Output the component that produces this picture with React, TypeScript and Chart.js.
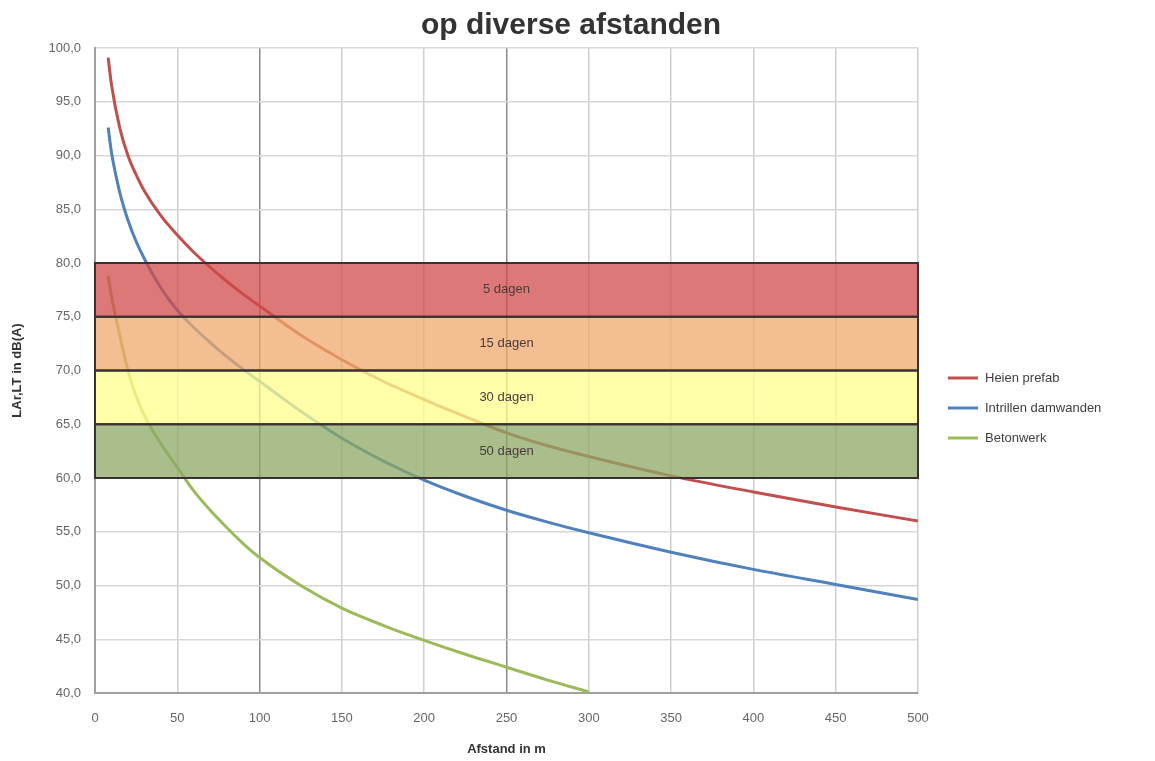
import React, { useEffect, useRef } from "react";
import { Chart, registerables } from "chart.js";

Chart.register(...registerables);

const distances = [8, 10, 15, 20, 25, 30, 40, 50, 60, 70, 80, 90, 100, 125, 150, 175, 200, 225, 250, 275, 300, 350, 400, 450, 500];
const heienPrefab = [99.1, 96.6, 92.6, 90.0, 88.2, 86.7, 84.4, 82.6, 81.0, 79.6, 78.3, 77.1, 76.0, 73.3, 71.0, 69.0, 67.3, 65.7, 64.2, 63.0, 62.0, 60.2, 58.7, 57.3, 56.0];
const intrillenDamwanden = [92.6, 90.3, 86.6, 84.0, 82.0, 80.4, 77.7, 75.6, 74.0, 72.6, 71.3, 70.1, 69.0, 66.2, 63.7, 61.6, 59.8, 58.3, 57.0, 55.9, 54.9, 53.1, 51.5, 50.1, 48.7];
const betonwerk = [78.8, 76.9, 73.3, 70.0, 67.6, 65.8, 63.2, 61.0, 58.8, 57.0, 55.4, 53.9, 52.6, 50.0, 47.9, 46.3, 44.9, 43.6, 42.4, 41.2, 40.1, null, null, null, null];

const seriesNames = ["Heien prefab", "Intrillen damwanden", "Betonwerk"];
const seriesColors = ["#C0504D", "#4F81BD", "#9BBB59"];

const bandLow = [75, 70, 65, 60];
const bandHigh = [80, 75, 70, 65];
const bandLabels = ["5 dagen", "15 dagen", "30 dagen", "50 dagen"];
const bandColors = ["rgba(209,75,75,0.75)", "rgba(239,168,108,0.75)", "rgba(255,255,141,0.75)", "rgba(141,168,101,0.75)"];
const bandFrom = 0;
const bandTo = 500;
const bandLabelX = 250;

const titleText = "op diverse afstanden";
const xTitle = "Afstand in m";
const yTitle = "LAr,LT in dB(A)";

const FONT = "'Liberation Sans', Arial, sans-serif";

export default function App() {
  const ref = useRef<HTMLCanvasElement | null>(null);

  useEffect(() => {
    document.body.style.margin = "0";
    const canvas = ref.current;
    if (!canvas) return;

    const toPoints = (vals: (number | null)[]) =>
      distances.map((d, i) => ({ x: d, y: vals[i] }));

    const overlay = {
      id: "overlay",
      afterDatasetsDraw(chart: any) {
        const { ctx, scales } = chart;
        const xs = scales.x;
        const ys = scales.y;
        const x0 = xs.getPixelForValue(bandFrom);
        const x1 = xs.getPixelForValue(bandTo);
        ctx.save();
        for (let i = 0; i < bandLow.length; i++) {
          const yTop = ys.getPixelForValue(bandHigh[i]);
          const yBot = ys.getPixelForValue(bandLow[i]);
          ctx.fillStyle = bandColors[i];
          ctx.fillRect(x0, yTop, x1 - x0, yBot - yTop);
        }
        ctx.strokeStyle = "#3b3030";
        ctx.lineWidth = 2;
        for (let i = 0; i < bandLow.length; i++) {
          const yTop = ys.getPixelForValue(bandHigh[i]);
          const yBot = ys.getPixelForValue(bandLow[i]);
          ctx.strokeRect(x0, yTop, x1 - x0, yBot - yTop);
        }
        ctx.fillStyle = "#4a3a3a";
        ctx.font = `13px ${FONT}`;
        ctx.textAlign = "center";
        ctx.textBaseline = "middle";
        for (let i = 0; i < bandLow.length; i++) {
          const yMid = ys.getPixelForValue((bandHigh[i] + bandLow[i]) / 2);
          ctx.fillText(bandLabels[i], xs.getPixelForValue(bandLabelX), yMid);
        }
        ctx.restore();
      },
      afterDraw(chart: any) {
        const { ctx, chartArea } = chart;
        ctx.save();
        ctx.fillStyle = "#333333";
        ctx.font = `bold 30px ${FONT}`;
        ctx.textAlign = "center";
        ctx.textBaseline = "alphabetic";
        ctx.fillText(titleText, 571, 34);
        // legend
        ctx.font = `13px ${FONT}`;
        ctx.textAlign = "left";
        ctx.textBaseline = "middle";
        const lx = chartArea.right + 30;
        const ly = 378;
        for (let i = 0; i < seriesNames.length; i++) {
          const y = ly + i * 30;
          ctx.strokeStyle = seriesColors[i];
          ctx.lineWidth = 3;
          ctx.beginPath();
          ctx.moveTo(lx, y);
          ctx.lineTo(lx + 30, y);
          ctx.stroke();
          ctx.fillStyle = "#404040";
          ctx.fillText(seriesNames[i], lx + 37, y);
        }
        ctx.restore();
      },
    };

    const chart = new Chart(canvas, {
      type: "line",
      data: {
        datasets: [
          { label: seriesNames[0], data: toPoints(heienPrefab) as any, borderColor: seriesColors[0], borderWidth: 3, pointRadius: 0, cubicInterpolationMode: "monotone", fill: false },
          { label: seriesNames[1], data: toPoints(intrillenDamwanden) as any, borderColor: seriesColors[1], borderWidth: 3, pointRadius: 0, cubicInterpolationMode: "monotone", fill: false },
          { label: seriesNames[2], data: toPoints(betonwerk) as any, borderColor: seriesColors[2], borderWidth: 3, pointRadius: 0, cubicInterpolationMode: "monotone", fill: false, spanGaps: false },
        ],
      },
      options: {
        animation: false,
        responsive: true,
        maintainAspectRatio: false,
        layout: { padding: { top: 48, right: 237, left: 0, bottom: 0 } },
        plugins: {
          legend: { display: false },
          title: { display: false },
          tooltip: { enabled: false },
        },
        scales: {
          x: {
            type: "linear",
            min: 0,
            max: 500,
            ticks: { stepSize: 50, color: "#666", font: { family: FONT, size: 13 }, padding: 18 },
            grid: {
              color: (c: any) => (c.tick && (c.tick.value === 100 || c.tick.value === 250) ? "#8a8a8a" : "#cfcfcf"),
              lineWidth: 1.5,
              drawTicks: false,
            },
            border: { color: "#a0a0a0", width: 2 },
            title: { display: true, text: xTitle, color: "#333", font: { family: FONT, size: 13, weight: "bold" }, padding: { top: 10 } },
            afterFit: (s: any) => { s.height = 68; },
          },
          y: {
            min: 40,
            max: 100,
            ticks: {
              stepSize: 5,
              color: "#666",
              font: { family: FONT, size: 13 },
              padding: 14,
              callback: (v: any) => Number(v).toFixed(1).replace(".", ","),
            },
            grid: { color: "#d6d6d6", lineWidth: 1.5, drawTicks: false },
            border: { color: "#a0a0a0", width: 2 },
            title: { display: true, text: yTitle, color: "#333", font: { family: FONT, size: 13, weight: "bold" }, padding: { top: 10, bottom: 4 } },
            afterFit: (s: any) => { s.width = 95; },
          },
        },
      },
      plugins: [overlay],
    });

    return () => chart.destroy();
  }, []);

  return (
    <div style={{ width: 1155, height: 761, position: "relative", background: "#fff" }}>
      <canvas ref={ref} />
    </div>
  );
}
